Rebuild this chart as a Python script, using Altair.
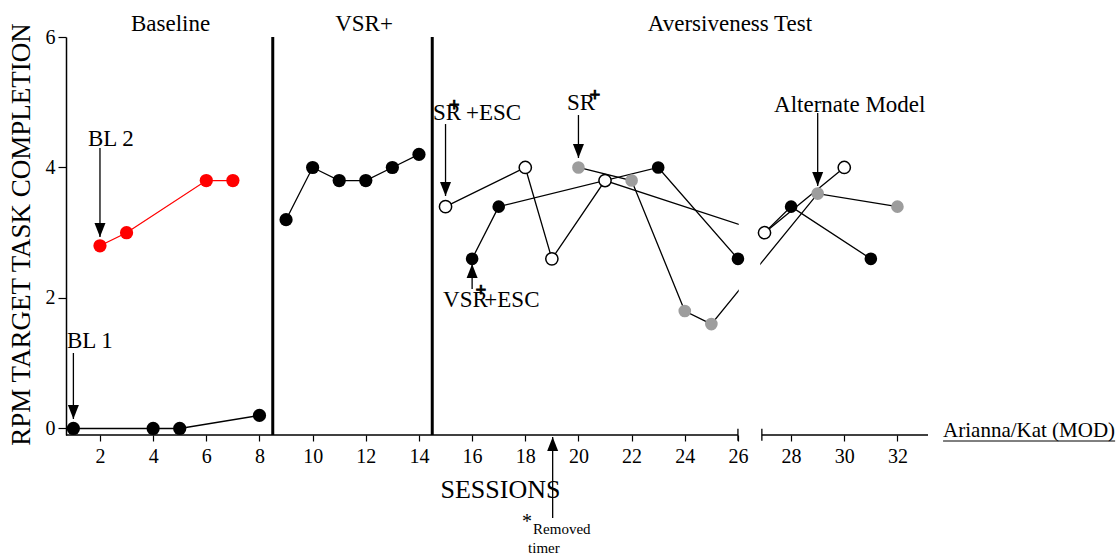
import altair as alt
import pandas as pd

# ---------------- data ----------------
bl1_sessions = [1, 4, 5, 8]
bl1_values = [0.0, 0.0, 0.0, 0.2]

bl2_sessions = [2, 3, 6, 7]
bl2_values = [2.8, 3.0, 3.8, 3.8]

vsr_sessions = [9, 10, 11, 12, 13, 14]
vsr_values = [3.2, 4.0, 3.8, 3.8, 4.0, 4.2]

# Aversiveness test: SR+ +ESC (open), SR+ (gray), VSR+ +ESC (black)
open_sessions = [15, 18, 19, 21, 27, 30]
open_values = [3.4, 4.0, 2.6, 3.8, 3.0, 4.0]

gray_sessions = [20, 22, 24, 25, 29, 32]
gray_values = [4.0, 3.8, 1.8, 1.6, 3.6, 3.4]

black_sessions = [16, 17, 23, 26, 28, 31]
black_values = [2.6, 3.4, 4.0, 2.6, 3.4, 2.6]

phase_lines = [8.5, 14.5]
phase_names = ["Baseline", "VSR+", "Aversiveness Test"]
x_ticks = list(range(2, 33, 2))
y_ticks = [0, 2, 4, 6]

FONT = "Liberation Serif"
GRAY = "#9d9d9d"

xs = alt.Scale(domain=[0.722, 33.15], nice=False, zero=False)
ys = alt.Scale(domain=[-0.1, 6], nice=False, zero=False)

xaxis = alt.Axis(values=x_ticks, domain=False, grid=False, tickSize=6, tickColor="black",
                 tickWidth=1.2, labelFont=FONT, labelFontSize=20, labelColor="black",
                 labelPadding=5, labelFlush=False, labelOverlap=False,
                 title="SESSIONS", titleFont=FONT, titleFontSize=26, titleFontWeight="normal",
                 titleColor="black", titleX=434, titleY=62, titleAlign="center",
                 titleBaseline="alphabetic")
yaxis = alt.Axis(values=y_ticks, grid=False, tickSize=8, tickColor="black", tickWidth=1.2,
                 domainColor="black", domainWidth=1.5, labelFont=FONT, labelFontSize=20,
                 labelColor="black", labelPadding=3, labelFlush=False,
                 title="RPM TARGET TASK COMPLETION", titleFont=FONT, titleFontSize=27,
                 titleFontWeight="normal", titleColor="black", titleAngle=270,
                 titleX=-45, titleY=197, titleAlign="center", titleBaseline="middle")


def X(f="x"):
    return alt.X(f, type="quantitative", scale=xs, axis=xaxis)


def Y(f="y"):
    return alt.Y(f, type="quantitative", scale=ys, axis=yaxis)


def df(xv, yv):
    return pd.DataFrame({"x": xv, "y": yv})


layers = []

# phase separator lines
layers.append(alt.Chart(pd.DataFrame({"x": phase_lines, "y": [-0.1] * 2, "y2": [6] * 2}))
              .mark_rule(color="black", strokeWidth=3)
              .encode(x=X(), y=Y(), y2="y2"))

# series lines
series = [
    (bl1_sessions, bl1_values, "black"),
    (bl2_sessions, bl2_values, "#ff0000"),
    (vsr_sessions, vsr_values, "black"),
    (open_sessions, open_values, "black"),
    (gray_sessions, gray_values, "black"),
    (black_sessions, black_values, "black"),
]
for sx, sy, col in series:
    layers.append(alt.Chart(df(sx, sy)).mark_line(color=col, strokeWidth=1.3)
                  .encode(x=X(), y=Y(), order="x:Q"))

# axis break gap (white band hides lines between 26 and 27)
layers.append(alt.Chart(pd.DataFrame({"x": [26.03], "x2": [26.84], "y": [0.3], "y2": [5.9]}))
              .mark_rect(color="white").encode(x=X(), x2="x2", y=Y(), y2="y2"))

# points
pts = [
    (bl1_sessions, bl1_values, "black", "black", True, 175),
    (bl2_sessions, bl2_values, "#ff0000", "#ff0000", True, 175),
    (vsr_sessions, vsr_values, "black", "black", True, 175),
    (open_sessions, open_values, "white", "black", False, 150),
    (gray_sessions, gray_values, GRAY, GRAY, True, 160),
    (black_sessions, black_values, "black", "black", True, 160),
]
for sx, sy, fill, stroke, filled, size in pts:
    layers.append(alt.Chart(df(sx, sy))
                  .mark_point(shape="circle", filled=True, fill=fill, stroke=stroke,
                              strokeWidth=0 if filled else 1.5, size=size, opacity=1)
                  .encode(x=X(), y=Y()))

# x axis line in two segments with break caps
layers.append(alt.Chart(pd.DataFrame({"x": [0.722, 26.9], "x2": [26.0, 33.15], "y": [-0.1, -0.1]}))
              .mark_rule(color="black", strokeWidth=1.5)
              .encode(x=X(), x2="x2", y=Y()))
layers.append(alt.Chart(pd.DataFrame({"x": [26.0, 26.9], "y": [-0.19, -0.19], "y2": [-0.005, -0.005]}))
              .mark_rule(color="black", strokeWidth=1.3)
              .encode(x=X(), y=Y(), y2="y2"))

# annotation arrows
arrows = pd.DataFrame({
    "x": [1, 2, 15, 20, 16, 29, 19.03],
    "y": [1.157, 4.298, 4.666, 4.804, 2.138, 4.835, -1.372],
    "y2": [0.145, 2.934, 3.563, 4.145, 2.521, 3.716, -0.131],
    "dir": ["down", "down", "down", "down", "up", "down", "up"],
})
layers.append(alt.Chart(arrows).mark_rule(color="black", strokeWidth=1.3)
              .encode(x=X(), y=Y(), y2="y2"))
down_head = "M -1 -2.55 L 1 -2.55 L 0 0 Z"
up_head = "M -1 2.55 L 1 2.55 L 0 0 Z"
layers.append(alt.Chart(arrows[arrows.dir == "down"])
              .mark_point(shape=down_head, filled=True, color="black", size=121, opacity=1)
              .encode(x=X(), y=Y("y2")))
layers.append(alt.Chart(arrows[arrows.dir == "up"])
              .mark_point(shape=up_head, filled=True, color="black", size=121, opacity=1)
              .encode(x=X(), y=Y("y2")))


def text_layer(rows, size, align="left", baseline="alphabetic", weight="normal", stroke=0):
    d = pd.DataFrame(rows, columns=["x", "y", "t"])
    kw = {}
    if stroke:
        kw = {"stroke": "black", "strokeWidth": stroke}
    return (alt.Chart(d)
            .mark_text(font=FONT, fontSize=size, align=align, baseline=baseline,
                       fontWeight=weight, color="black", **kw)
            .encode(x=X(), y=Y(), text="t:N"))


# phase titles
layers.append(text_layer([(4.654, 6.092, phase_names[0]),
                          (11.934, 6.092, phase_names[1]),
                          (25.70, 6.092, phase_names[2])], 23, align="center"))
# annotation labels
layers.append(text_layer([(0.76, 1.233, "BL 1"),
                          (1.55, 4.329, "BL 2"),
                          (14.53, 4.728, "SR"),
                          (15.77, 4.728, "+ESC"),
                          (19.571, 4.881, "SR"),
                          (14.906, 1.862, "VSR"),
                          (16.46, 1.862, "+ESC"),
                          (27.36, 4.850, "Alternate Model")], 23))
# bold superscript plus signs
layers.append(text_layer([(15.32, 4.96, "+"),
                          (20.62, 5.11, "+"),
                          (16.33, 2.125, "+")], 19, align="center", baseline="middle",
                         weight="bold", stroke=0.9))
# removed timer note
layers.append(text_layer([(18.066, -1.43, "*")], 20, align="center", baseline="middle"))
layers.append(text_layer([(18.292, -1.617, "Removed"),
                          (18.104, -1.908, "timer")], 15))
# participant label
layers.append(text_layer([(33.717, -0.131, "Arianna/Kat (MOD)")], 21))
layers.append(alt.Chart(pd.DataFrame({"x": [33.717], "x2": [40.19], "y": [-0.192]}))
              .mark_rule(color="black", strokeWidth=1)
              .encode(x=X(), x2="x2", y=Y()))

chart = (alt.layer(*layers)
         .properties(width=862, height=398, autosize="none",
                     padding={"left": 66, "top": 37, "right": 190, "bottom": 123},
                     background="white")
         .configure_view(stroke=None))

chart.save("out.html", embed_options={"renderer": "svg", "actions": False})
